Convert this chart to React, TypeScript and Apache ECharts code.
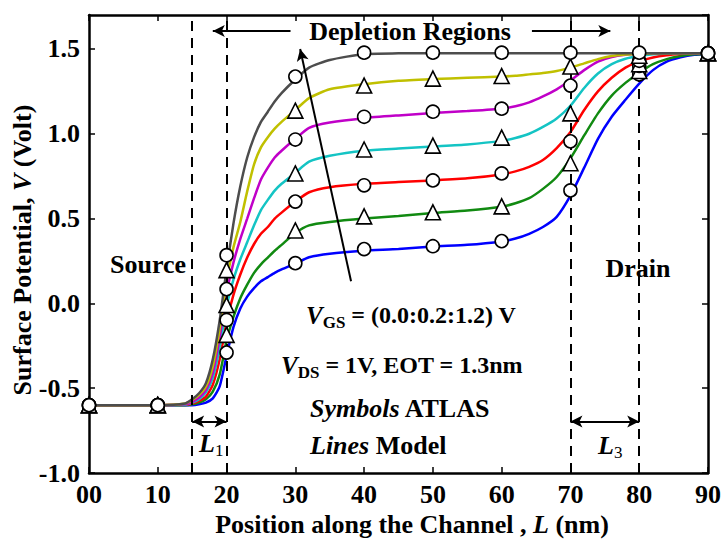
import React, { useEffect, useRef } from "react";
import * as echarts from "echarts";

// ---------- data ----------
const xLine = [0, 10, 14, 15, 16, 17, 18, 19, 20, 21, 22, 23, 24, 25, 26, 27, 28, 30, 32, 35, 40, 45, 50, 55, 60, 62, 64, 66, 68, 70, 72, 74, 76, 78, 80, 82, 84, 86, 88, 90];

const modelV00 = [-0.6, -0.6, -0.6, -0.6, -0.595, -0.585, -0.56, -0.49, -0.31, -0.14, -0.03, 0.04, 0.09, 0.13, 0.155, 0.18, 0.2, 0.235, 0.272, 0.293, 0.31, 0.32, 0.335, 0.345, 0.365, 0.382, 0.41, 0.45, 0.51, 0.635, 0.8, 0.97, 1.1, 1.2, 1.295, 1.375, 1.425, 1.45, 1.465, 1.47];
const modelV02 = [-0.6, -0.6, -0.6, -0.595, -0.585, -0.565, -0.52, -0.42, -0.22, -0.08, 0.03, 0.11, 0.18, 0.23, 0.27, 0.31, 0.345, 0.415, 0.46, 0.48, 0.5, 0.515, 0.533, 0.548, 0.57, 0.59, 0.62, 0.675, 0.745, 0.855, 0.99, 1.12, 1.225, 1.3, 1.36, 1.41, 1.44, 1.458, 1.468, 1.472];
const modelV04 = [-0.6, -0.6, -0.598, -0.59, -0.575, -0.55, -0.48, -0.33, -0.11, 0.05, 0.17, 0.27, 0.35, 0.41, 0.45, 0.5, 0.535, 0.6, 0.655, 0.685, 0.705, 0.715, 0.725, 0.737, 0.76, 0.778, 0.805, 0.845, 0.915, 1.01, 1.14, 1.25, 1.33, 1.39, 1.427, 1.45, 1.463, 1.47, 1.474, 1.475];
const modelV06 = [-0.6, -0.6, -0.597, -0.585, -0.565, -0.525, -0.44, -0.26, -0.02, 0.14, 0.26, 0.36, 0.46, 0.55, 0.61, 0.665, 0.705, 0.77, 0.835, 0.87, 0.9, 0.913, 0.925, 0.937, 0.958, 0.975, 1.0, 1.04, 1.09, 1.165, 1.27, 1.355, 1.41, 1.442, 1.458, 1.468, 1.473, 1.475, 1.475, 1.475];
const modelV08 = [-0.6, -0.6, -0.595, -0.58, -0.555, -0.51, -0.41, -0.2, 0.06, 0.24, 0.38, 0.5, 0.62, 0.73, 0.8, 0.86, 0.9, 0.97, 1.035, 1.066, 1.092, 1.108, 1.122, 1.134, 1.148, 1.162, 1.185, 1.22, 1.262, 1.315, 1.375, 1.425, 1.452, 1.465, 1.471, 1.474, 1.475, 1.475, 1.475, 1.475];
const modelV10 = [-0.6, -0.6, -0.59, -0.57, -0.54, -0.49, -0.37, -0.15, 0.13, 0.33, 0.48, 0.66, 0.82, 0.92, 0.98, 1.03, 1.07, 1.14, 1.21, 1.262, 1.292, 1.312, 1.322, 1.33, 1.337, 1.342, 1.35, 1.358, 1.37, 1.39, 1.415, 1.44, 1.458, 1.467, 1.472, 1.475, 1.475, 1.475, 1.475, 1.475];
const modelV12 = [-0.6, -0.6, -0.59, -0.565, -0.53, -0.47, -0.33, -0.1, 0.2, 0.47, 0.69, 0.86, 0.98, 1.07, 1.13, 1.19, 1.24, 1.32, 1.39, 1.435, 1.47, 1.474, 1.475, 1.475, 1.475, 1.475, 1.475, 1.475, 1.475, 1.475, 1.475, 1.475, 1.475, 1.475, 1.475, 1.475, 1.475, 1.475, 1.475, 1.475];

const xAtlas = [0, 10, 20, 30, 40, 50, 60, 70, 80, 90];
const atlasV00 = [-0.6, -0.6, -0.29, 0.237, 0.32, 0.337, 0.367, 0.666, 1.35, 1.475];
const atlasV02 = [-0.6, -0.6, -0.186, 0.43, 0.513, 0.537, 0.572, 0.826, 1.37, 1.475];
const atlasV04 = [-0.6, -0.6, -0.098, 0.6, 0.696, 0.725, 0.766, 0.955, 1.4, 1.475];
const atlasV06 = [-0.6, -0.6, -0.01, 0.766, 0.907, 0.93, 0.977, 1.12, 1.41, 1.475];
const atlasV08 = [-0.6, -0.6, 0.084, 0.966, 1.1, 1.13, 1.148, 1.284, 1.43, 1.475];
const atlasV10 = [-0.6, -0.6, 0.196, 1.136, 1.284, 1.325, 1.34, 1.396, 1.46, 1.475];
const atlasV12 = [-0.6, -0.6, 0.284, 1.337, 1.478, 1.478, 1.478, 1.478, 1.478, 1.475];

const vgsLabels = ["0.0", "0.2", "0.4", "0.6", "0.8", "1.0", "1.2"];
const lineColors = ["#0000ff", "#118a11", "#ff0000", "#14c4c4", "#c000c8", "#c0c000", "#4d4d4d"];
const symbols = ["circle", "triangle", "circle", "triangle", "circle", "triangle", "circle"];

const dashedX = [15, 20, 70, 80];
// annotation arrows: [x1, y1, x2, y2] (tip at the end)
const depletionArrowLeft = [29.3, 1.606, 18.0, 1.606];
const depletionArrowRight = [64.4, 1.606, 75.8, 1.606];
const vgsArrow = [38.1, 0.13, 30.7, 1.5];
const l1Arrow = [15, -0.696, 20, -0.696];
const l3Arrow = [70, -0.696, 80, -0.696];

const FONT = "'Liberation Serif', 'Times New Roman', serif";

export default function App() {
  const ref = useRef<HTMLDivElement>(null);
  useEffect(() => {
    document.body.style.margin = "0";
    if (!ref.current) return;
    const chart = echarts.init(ref.current, null, { renderer: "svg" });
    const models = [modelV00, modelV02, modelV04, modelV06, modelV08, modelV10, modelV12];
    const atlas = [atlasV00, atlasV02, atlasV04, atlasV06, atlasV08, atlasV10, atlasV12];

    const lineSeries = models.map((m, i) => ({
      name: "Model " + vgsLabels[i],
      type: "line",
      data: xLine.map((x, k) => [x, m[k]]),
      showSymbol: false,
      smooth: 0.2,
      lineStyle: { color: lineColors[i], width: 2.5 },
      z: 3,
    }));
    const markerSeries = atlas.map((a, i) => ({
      name: "ATLAS " + vgsLabels[i],
      type: "scatter",
      data: xAtlas.map((x, k) => [x, a[k]]),
      symbol: symbols[i],
      symbolSize: symbols[i] === "circle" ? 13 : 15,
      itemStyle: { color: "#fff", borderColor: "#000", borderWidth: 1.6, opacity: 1 },
      clip: false,
      z: 5,
    }));

    const arrowItem = (a: number[], both: boolean) => [
      { coord: [a[0], a[1]], symbol: both ? "arrow" : "none" },
      { coord: [a[2], a[3]], symbol: "arrow" },
    ];

    const axisCommon = {
      axisLine: { onZero: false, lineStyle: { color: "#000", width: 2.5 } },
      axisTick: { inside: true, length: 6, lineStyle: { color: "#000", width: 1.5 } },
      splitLine: { show: false },
    };
    const labelStyle = { fontSize: 26, fontWeight: "bold", fontFamily: FONT, color: "#000" };

    const option: any = {
      animation: false,
      backgroundColor: "#fff",
      grid: { left: 89, right: 13, top: 15, bottom: 75 },
      xAxis: [
        {
          type: "value", min: 0, max: 90, interval: 10, position: "bottom", ...axisCommon,
          axisLabel: { ...labelStyle, margin: 8, formatter: (v: number) => (v === 0 ? "00" : String(v)) },
        },
        { type: "value", min: 0, max: 90, interval: 10, position: "top", ...axisCommon, axisLabel: { show: false } },
      ],
      yAxis: [
        {
          type: "value", min: -1.0, max: 1.7, interval: 0.5, position: "left", ...axisCommon,
          axisLabel: { ...labelStyle, margin: 9, showMaxLabel: false, formatter: (v: number) => v.toFixed(1) },
        },
        { type: "value", min: -1.0, max: 1.7, interval: 0.5, position: "right", ...axisCommon, axisLabel: { show: false } },
      ],
      series: [
        {
          type: "line", data: [], silent: true,
          markLine: {
            silent: true, symbol: ["none", "none"], label: { show: false },
            lineStyle: { color: "#000", width: 2, type: [10, 7] },
            data: dashedX.map((x) => ({ xAxis: x })),
          },
          z: 2,
        },
        {
          type: "line", data: [], silent: true,
          markLine: {
            silent: true, symbolSize: [9, 12], label: { show: false },
            lineStyle: { color: "#000", width: 2, type: "solid" },
            data: [
              arrowItem(depletionArrowLeft, false),
              arrowItem(depletionArrowRight, false),
              arrowItem(vgsArrow, false),
              arrowItem(l1Arrow, true),
              arrowItem(l3Arrow, true),
            ],
          },
          z: 6,
        },
        ...lineSeries,
        ...markerSeries,
      ],
      graphic: [
        {
          type: "text", x: 22, y: 250, rotation: Math.PI / 2,
          style: {
            text: "{b|Surface Potential, }{i|V}{b| (Volt)}",
            align: "center", verticalAlign: "middle",
            rich: {
              b: { fontSize: 26, fontWeight: "bold", fontFamily: FONT, fill: "#000" },
              i: { fontSize: 26, fontWeight: "bold", fontStyle: "italic", fontFamily: FONT, fill: "#000" },
            },
          },
        },
        {
          type: "text", x: 412, y: 524,
          style: {
            text: "{b|Position along the Channel , }{i|L}{b| (nm)}",
            align: "center", verticalAlign: "middle",
            rich: {
              b: { fontSize: 26, fontWeight: "bold", fontFamily: FONT, fill: "#000" },
              i: { fontSize: 26, fontWeight: "bold", fontStyle: "italic", fontFamily: FONT, fill: "#000" },
            },
          },
        },
        {
          type: "text", x: 410, y: 31,
          style: { text: "Depletion Regions", align: "center", verticalAlign: "middle", fontSize: 26, fontWeight: "bold", fontFamily: FONT, fill: "#000" },
        },
        {
          type: "text", x: 148, y: 264,
          style: { text: "Source", align: "center", verticalAlign: "middle", fontSize: 26, fontWeight: "bold", fontFamily: FONT, fill: "#000" },
        },
        {
          type: "text", x: 638, y: 268,
          style: { text: "Drain", align: "center", verticalAlign: "middle", fontSize: 26, fontWeight: "bold", fontFamily: FONT, fill: "#000" },
        },
        {
          type: "text", x: 306, y: 315,
          style: {
            text: "{i|V}{s|GS}{b| = (0.0:0.2:1.2) V}",
            align: "left", verticalAlign: "middle",
            rich: {
              b: { fontSize: 24, lineHeight: 32, fontWeight: "bold", fontFamily: FONT, fill: "#000" },
              i: { fontSize: 25, lineHeight: 32, fontWeight: "bold", fontStyle: "italic", fontFamily: FONT, fill: "#000" },
              s: { fontSize: 17, lineHeight: 17, fontWeight: "bold", fontFamily: FONT, fill: "#000", verticalAlign: "bottom" },
            },
          },
        },
        {
          type: "text", x: 281, y: 365,
          style: {
            text: "{i|V}{s|DS}{b| = 1V, EOT = 1.3nm}",
            align: "left", verticalAlign: "middle",
            rich: {
              b: { fontSize: 24, lineHeight: 32, fontWeight: "bold", fontFamily: FONT, fill: "#000" },
              i: { fontSize: 25, lineHeight: 32, fontWeight: "bold", fontStyle: "italic", fontFamily: FONT, fill: "#000" },
              s: { fontSize: 17, lineHeight: 17, fontWeight: "bold", fontFamily: FONT, fill: "#000", verticalAlign: "bottom" },
            },
          },
        },
        {
          type: "text", x: 310, y: 408,
          style: {
            text: "{i|Symbols}{b| ATLAS}",
            align: "left", verticalAlign: "middle",
            rich: {
              b: { fontSize: 26, fontWeight: "bold", fontFamily: FONT, fill: "#000" },
              i: { fontSize: 26, fontWeight: "bold", fontStyle: "italic", fontFamily: FONT, fill: "#000" },
            },
          },
        },
        {
          type: "text", x: 310, y: 445,
          style: {
            text: "{i|Lines}{b| Model}",
            align: "left", verticalAlign: "middle",
            rich: {
              b: { fontSize: 26, fontWeight: "bold", fontFamily: FONT, fill: "#000" },
              i: { fontSize: 26, fontWeight: "bold", fontStyle: "italic", fontFamily: FONT, fill: "#000" },
            },
          },
        },
        {
          type: "text", x: 199, y: 443,
          style: {
            text: "{i|L}{s|1}",
            align: "left", verticalAlign: "middle",
            rich: {
              i: { fontSize: 26, lineHeight: 32, fontWeight: "bold", fontStyle: "italic", fontFamily: FONT, fill: "#000" },
              s: { fontSize: 17, lineHeight: 17, fontFamily: FONT, fill: "#000", verticalAlign: "bottom" },
            },
          },
        },
        {
          type: "text", x: 598, y: 445,
          style: {
            text: "{i|L}{s|3}",
            align: "left", verticalAlign: "middle",
            rich: {
              i: { fontSize: 26, lineHeight: 32, fontWeight: "bold", fontStyle: "italic", fontFamily: FONT, fill: "#000" },
              s: { fontSize: 17, lineHeight: 17, fontFamily: FONT, fill: "#000", verticalAlign: "bottom" },
            },
          },
        },
      ],
    };
    chart.setOption(option);
    return () => chart.dispose();
  }, []);
  return <div ref={ref} style={{ width: 724, height: 548 }} />;
}
